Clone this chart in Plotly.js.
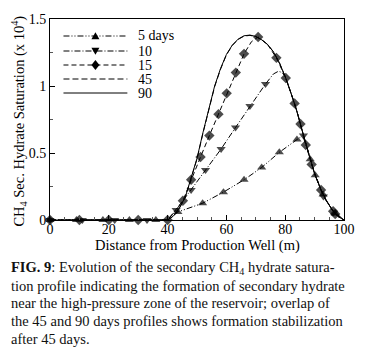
<!DOCTYPE html>
<html>
<head>
<meta charset="utf-8">
<script src="https://cdn.plot.ly/plotly-3.0.1.min.js"></script>
<style>
html,body{margin:0;padding:0;background:#fff;}
#chart{width:374px;height:360px;}
</style>
</head>
<body>
<div id="chart"></div>
<script>
// ---- data ----
const seriesNames = ['5 days', '10', '15', '45', '90'];

const x5  = [0, 9, 18, 27, 36, 40, 43.5, 51.9, 59, 66, 72, 78, 84, 86, 88.5, 90.2, 92.9, 95, 97, 100];
const y5  = [0, 0, 0, 0, 0, 0, 0.06, 0.125, 0.208, 0.30, 0.392, 0.505, 0.60, 0.63, 0.454, 0.334, 0.19, 0.11, 0.048, 0];
const mk5 = [0, 9, 18, 27, 36, 43.5, 51.9, 59, 66, 72, 78, 84, 88.5, 90.2, 92.9, 97];

const x10  = [0, 11, 22, 33, 40, 42.9, 48, 52.9, 58.2, 63.1, 68, 73.3, 76, 77.7, 79, 80, 82, 84, 86.2, 88, 90, 93, 96, 100];
const y10  = [0, 0, 0, 0, 0, 0.075, 0.224, 0.373, 0.53, 0.69, 0.85, 1.015, 1.09, 1.11, 1.10, 1.07, 0.945, 0.81, 0.63, 0.49, 0.345, 0.175, 0.075, 0];
const mk10 = [0, 11, 22, 33, 42.9, 48, 52.9, 58.2, 63.1, 68, 73.3, 86.2, 93];

const x15  = [0, 10, 20, 30, 40, 45.2, 48, 51.2, 54.2, 57.3, 60.1, 63.2, 66, 68.5, 70.8, 72, 74, 77, 80.2, 83.2, 85.2, 87, 89, 92.2, 94, 96.3, 97, 100];
const y15  = [0, 0, 0, 0, 0, 0.144, 0.30, 0.47, 0.63, 0.79, 0.945, 1.10, 1.24, 1.33, 1.366, 1.345, 1.31, 1.21, 1.06, 0.87, 0.716, 0.56, 0.415, 0.224, 0.145, 0.065, 0.045, 0];
const mk15 = [0, 10, 20, 30, 40, 45.2, 48, 51.2, 54.2, 57.3, 60.1, 63.2, 66, 70.8, 77, 80.2, 83.2, 85.2, 87, 89, 92.2, 96.3, 97];

const x45 = [0, 10, 20, 30, 40, 42, 44, 46, 48, 50, 52, 54, 56, 58, 60, 62, 64, 66, 68, 70, 72, 74, 76, 78, 80, 82, 84, 86, 88, 90, 92, 94, 96, 98, 100];
const y45 = [0, 0, 0, 0, 0, 0.028, 0.088, 0.168, 0.305, 0.455, 0.645, 0.825, 0.995, 1.125, 1.232, 1.302, 1.348, 1.372, 1.378, 1.368, 1.345, 1.31, 1.255, 1.175, 1.07, 0.945, 0.81, 0.65, 0.49, 0.345, 0.235, 0.145, 0.075, 0.025, 0];

const x90 = [0, 10, 20, 30, 40, 42, 44, 46, 48, 50, 52, 54, 56, 58, 60, 62, 64, 66, 68, 70, 72, 74, 76, 78, 80, 82, 84, 86, 88, 90, 92, 94, 96, 98, 100];
const y90 = [0, 0, 0, 0, 0, 0.03, 0.09, 0.17, 0.31, 0.46, 0.65, 0.83, 1.0, 1.13, 1.235, 1.305, 1.35, 1.375, 1.38, 1.37, 1.345, 1.31, 1.255, 1.175, 1.07, 0.945, 0.81, 0.65, 0.49, 0.345, 0.235, 0.145, 0.075, 0.025, 0];

const xTickVals = [0, 20, 40, 60, 80, 100];
const yTickVals = [0, 0.5, 1, 1.5];
const yTickText = ['0', '0.5', '1', '1.5'];

const xTitle = 'Distance from Production Well (m)';
const yTitle = 'CH<sub>4</sub> Sec. Hydrate Saturation (x 10<sup>4</sup>)';

const captionLines = [
  '<b>FIG. 9</b>: Evolution of the secondary CH<sub>4</sub> hydrate satura-',
  'tion profile indicating the formation of secondary hydrate',
  'near the high-pressure zone of the reservoir; overlap of',
  'the 45 and 90 days profiles shows formation stabilization',
  'after 45 days.'
];

// ---- styles ----
const FONT = 'Liberation Serif';
const styles = [
  {dash: '6px,2px,1px,2px,1px,2px', symbol: 'triangle-up', size: 8},
  {dash: '6px,2px,1px,2px', symbol: 'triangle-down', size: 8},
  {dash: '5px,3px', symbol: 'diamond', size: 8},
  {dash: '6px,3px', symbol: null, size: 0},
  {dash: 'solid', symbol: null, size: 0}
];
const xs = [x5, x10, x15, x45, x90];
const ys = [y5, y10, y15, y45, y90];
const mks = [mk5, mk10, mk15, null, null];

const traces = [];
[3, 4, 2, 1, 0].forEach(i => {
  const st = styles[i];
  const t = {
    type: 'scatter', name: seriesNames[i], x: xs[i], y: ys[i],
    mode: st.symbol ? 'lines+markers' : 'lines',
    line: {color: '#000', width: 1, dash: st.dash},
    cliponaxis: false, showlegend: false
  };
  if (st.symbol) {
    t.marker = {
      symbol: st.symbol, color: '#000',
      size: xs[i].map(v => mks[i].indexOf(v) >= 0 ? st.size : 0),
      line: {width: 0}
    };
  }
  traces.push(t);
});

// ---- geometry helpers (pixel -> paper) ----
const W = 374, H = 360;
const L = 49.5, R = 344, T = 19, B = 220;
const px = v => (v - L) / (R - L);
const py = v => (B - v) / (B - T);

const shapes = [];
const annotations = [];

// custom legend
const legendRows = [36, 51, 65, 79, 93];
const legX0 = 63, legX1 = 127, legTextX = 137;
const markerPaths = {
  'triangle-up': 'M-4,-3.3 L4,-3.3 L0,3.8 Z',
  'triangle-down': 'M-4,3.3 L4,3.3 L0,-3.8 Z',
  'diamond': 'M0,5 L4,0 L0,-5 L-4,0 Z'
};
seriesNames.forEach((nm, i) => {
  const yy = py(legendRows[i]);
  shapes.push({type: 'line', xref: 'paper', yref: 'paper', x0: px(legX0), x1: px(legX1), y0: yy, y1: yy,
    line: {color: '#000', width: 1, dash: styles[i].dash}});
  if (styles[i].symbol) {
    shapes.push({type: 'path', xref: 'paper', yref: 'paper', xsizemode: 'pixel', ysizemode: 'pixel',
      xanchor: px((legX0 + legX1) / 2), yanchor: yy, path: markerPaths[styles[i].symbol],
      fillcolor: '#000', line: {width: 0}});
  }
  annotations.push({xref: 'paper', yref: 'paper', x: px(legTextX), y: yy, xanchor: 'left', yanchor: 'middle',
    text: nm, showarrow: false, borderpad: 0, font: {family: FONT, size: 14, color: '#000'}});
});

// axis titles
annotations.push({xref: 'paper', yref: 'paper', x: px((L + R) / 2), y: py(245), xanchor: 'center', yanchor: 'middle',
  text: xTitle, showarrow: false, borderpad: 0, font: {family: FONT, size: 14.5, color: '#000'}});
annotations.push({xref: 'paper', yref: 'paper', x: px(18), y: py(121), xanchor: 'center', yanchor: 'middle',
  text: yTitle, textangle: -90, showarrow: false, borderpad: 0, font: {family: FONT, size: 14.5, color: '#000'}});

// caption
const capRows = [268, 286, 303, 321, 339];
captionLines.forEach((ln, i) => {
  annotations.push({xref: 'paper', yref: 'paper', x: px(9), y: py(capRows[i]), xanchor: 'left', yanchor: 'middle',
    text: ln, showarrow: false, align: 'left', borderpad: 0, font: {family: FONT, size: 14.5, color: '#111'}});
});

const layout = {
  width: W, height: H,
  margin: {l: L, r: W - R, t: T, b: H - B, pad: 0},
  paper_bgcolor: '#fff', plot_bgcolor: '#fff',
  showlegend: false,
  font: {family: FONT, size: 14, color: '#000'},
  xaxis: {
    range: [0, 100], tickvals: xTickVals, ticktext: xTickVals.map(String),
    ticks: 'inside', ticklen: 5, tickcolor: '#000', ticklabelstandoff: -4,
    minor: {dtick: 5, ticks: 'inside', ticklen: 3, tickcolor: '#555'},
    showline: true, linecolor: '#000', linewidth: 1, mirror: true,
    showgrid: false, zeroline: false,
    tickfont: {family: FONT, size: 14}
  },
  yaxis: {
    range: [0, 1.5], tickvals: yTickVals, ticktext: yTickText,
    ticks: 'inside', ticklen: 5, tickcolor: '#000',
    minor: {dtick: 0.25, ticks: 'inside', ticklen: 3, tickcolor: '#555'},
    showline: true, linecolor: '#000', linewidth: 1, mirror: true,
    showgrid: false, zeroline: false,
    tickfont: {family: FONT, size: 14}
  },
  shapes: shapes,
  annotations: annotations
};

Plotly.newPlot('chart', traces, layout, {displayModeBar: false, staticPlot: true});
</script>
</body>
</html>
